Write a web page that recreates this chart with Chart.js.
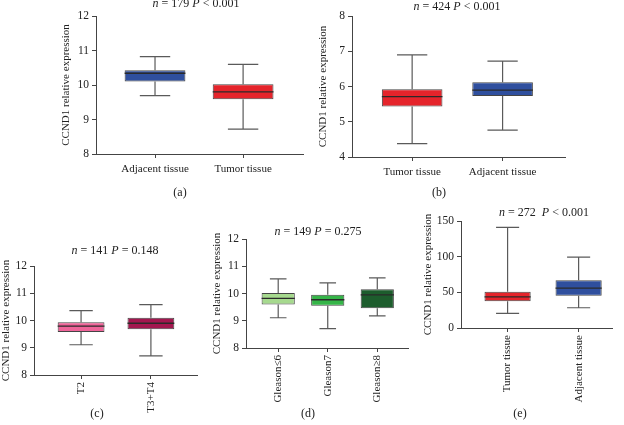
<!DOCTYPE html>
<html><head><meta charset="utf-8">
<script src="https://cdn.jsdelivr.net/npm/chart.js@4"></script>
<style>
body{margin:0;background:#fff;width:624px;height:425px;overflow:hidden;position:relative;font-family:'Liberation Serif',serif;}
canvas{position:absolute;left:0;top:0;}
.t{position:absolute;font-size:12px;white-space:nowrap;transform:translateX(-50%);line-height:12px;color:#222;}
</style></head><body>
<canvas id="ca" width="624" height="425"></canvas>
<canvas id="cb" width="624" height="425"></canvas>
<canvas id="cc" width="624" height="425"></canvas>
<canvas id="cd" width="624" height="425"></canvas>
<canvas id="ce" width="624" height="425"></canvas>
<div class="t" style="left:196px;top:-3px"><i>n</i> = 179 <i>P</i> &lt; 0.001</div>
<div class="t" style="left:457px;top:0px"><i>n</i> = 424 <i>P</i> &lt; 0.001</div>
<div class="t" style="left:115px;top:244px"><i>n</i> = 141 <i>P</i> = 0.148</div>
<div class="t" style="left:318px;top:225px"><i>n</i> = 149 <i>P</i> = 0.275</div>
<div class="t" style="left:544px;top:206px"><i>n</i> = 272&nbsp;&nbsp;<i>P</i> &lt; 0.001</div>
<div class="t" style="left:180px;top:186px">(a)</div>
<div class="t" style="left:439px;top:186px">(b)</div>
<div class="t" style="left:97px;top:407px">(c)</div>
<div class="t" style="left:308px;top:407px">(d)</div>
<div class="t" style="left:520px;top:407px">(e)</div>
<script>
// ---- data ----
const catsA = ['Adjacent tissue', 'Tumor tissue'];
const minA = [9.69, 8.72], q1A = [10.10, 9.59], medA = [10.34, 9.80], q3A = [10.43, 10.02], maxA = [10.82, 10.60];
const yA = [8, 12, 1];

const catsB = ['Tumor tissue', 'Adjacent tissue'];
const minB = [4.38, 4.76], q1B = [5.43, 5.73], medB = [5.71, 5.90], q3B = [5.92, 6.12], maxB = [6.90, 6.72];
const yB = [4, 8, 1];

const catsC = ['T2', 'T3+T4'];
const minC = [9.11, 8.70], q1C = [9.58, 9.68], medC = [9.79, 9.90], q3C = [9.94, 10.10], maxC = [10.36, 10.58];
const yC = [8, 12, 1];

const catsD = ['Gleason≤6', 'Gleason7', 'Gleason≥8'];
const minD = [9.11, 8.71, 9.18], q1D = [9.60, 9.55, 9.46], medD = [9.82, 9.77, 9.95], q3D = [10.02, 9.95, 10.16], maxD = [10.54, 10.39, 10.57];
const yD = [8, 12, 1];

const catsE = ['Tumor tissue', 'Adjacent tissue'];
const minE = [20.5, 28.4], q1E = [37.5, 45.2], medE = [43.5, 55.9], q3E = [50.9, 67.1], maxE = [141, 99.3];
const yE = [0, 150, 50];

const yTitle = 'CCND1 relative expression';

// ---- box plot drawing plugin ----
const boxPlugin = {
  id: 'boxw',
  beforeDatasetsDraw(chart, args, o) {
    const ctx = chart.ctx, ys = chart.scales.y;
    const meta = chart.getDatasetMeta(0);
    ctx.save();
    ctx.strokeStyle = '#5a5a5a';
    ctx.lineWidth = 1.2;
    meta.data.forEach((el, i) => {
      const x = el.x, hw = el.width / 2 * 0.5;
      const yMax = ys.getPixelForValue(o.max[i]), yMin = ys.getPixelForValue(o.min[i]);
      const yQ3 = ys.getPixelForValue(o.q3[i]), yQ1 = ys.getPixelForValue(o.q1[i]);
      ctx.beginPath();
      ctx.moveTo(x, yQ3); ctx.lineTo(x, yMax);
      ctx.moveTo(x - hw, yMax); ctx.lineTo(x + hw, yMax);
      ctx.moveTo(x, yQ1); ctx.lineTo(x, yMin);
      ctx.moveTo(x - hw, yMin); ctx.lineTo(x + hw, yMin);
      ctx.stroke();
    });
    ctx.restore();
  },
  afterDatasetsDraw(chart, args, o) {
    const ctx = chart.ctx, ys = chart.scales.y;
    const meta = chart.getDatasetMeta(0);
    ctx.save();
    ctx.strokeStyle = '#2a2a2a';
    ctx.lineWidth = 1.3;
    meta.data.forEach((el, i) => {
      const y = ys.getPixelForValue(o.med[i]);
      ctx.beginPath();
      ctx.moveTo(el.x - el.width / 2, y); ctx.lineTo(el.x + el.width / 2, y);
      ctx.stroke();
    });
    ctx.restore();
  }
};

const FONT = "'Liberation Serif', 'Times New Roman', serif";

function makeBox(id, cats, mn, q1, md, q3, mx, yr, colors, L) {
  const hx = 425 - L.bot;
  new Chart(document.getElementById(id), {
    type: 'bar',
    data: {
      datasets: [{
        data: cats.map((c, i) => ({ x: i, y: [q1[i], q3[i]] })),
        backgroundColor: colors,
        borderColor: '#454545',
        borderWidth: 1,
        borderSkipped: false,
        categoryPercentage: 1,
        barPercentage: L.bp
      }]
    },
    options: {
      responsive: false,
      animation: false,
      events: [],
      layout: { padding: { left: L.axL - L.wy, right: 624 - L.axR, top: L.top, bottom: 0 } },
      plugins: {
        legend: { display: false },
        tooltip: { enabled: false },
        title: { display: false },
        boxw: { min: mn, q1: q1, med: md, q3: q3, max: mx }
      },
      scales: {
        x: {
          type: 'linear', min: L.xmin, max: L.xmax, offset: false,
          afterBuildTicks(s) { s.ticks = cats.map((c, i) => ({ value: i })); },
          afterFit(s) { s.height = hx; },
          ticks: {
            autoSkip: false, callback: (v) => cats[v],
            font: { family: FONT, size: 11 }, color: '#222',
            padding: L.xpad, maxRotation: L.rot, minRotation: L.rot
          },
          grid: { display: true, drawOnChartArea: false, drawTicks: true, tickLength: 4, color: '#444', offset: false },
          border: { display: true, color: '#444', width: 1 }
        },
        y: {
          min: yr[0], max: yr[1],
          afterFit(s) { s.width = L.wy; },
          ticks: { stepSize: yr[2], font: { family: FONT, size: 11.5 }, color: '#222', padding: 3 },
          grid: { display: true, drawOnChartArea: false, drawTicks: true, tickLength: 4, color: '#444' },
          border: { display: true, color: '#444', width: 1 },
          title: { display: true, text: yTitle, font: { family: FONT, size: 11 }, color: '#222', padding: 0 }
        }
      }
    },
    plugins: [boxPlugin]
  });
}

makeBox('ca', catsA, minA, q1A, medA, q3A, maxA, yA, ['#2f4f9e', '#e5242b'],
  { axL: 96, axR: 303, top: 16, bot: 154, wy: 36, xmin: -0.67, xmax: 1.68, bp: 0.69, xpad: 5, rot: 0 });
makeBox('cb', catsB, minB, q1B, medB, q3B, maxB, yB, ['#e5242b', '#2f4f9e'],
  { axL: 352, axR: 565, top: 16, bot: 157, wy: 35, xmin: -0.665, xmax: 1.69, bp: 0.67, xpad: 5, rot: 0 });
makeBox('cc', catsC, minC, q1C, medC, q3C, maxC, yC, ['#ef6499', '#a3174f'],
  { axL: 34, axR: 197, top: 266, bot: 375, wy: 34, xmin: -0.674, xmax: 1.66, bp: 0.67, xpad: 3, rot: 90 });
makeBox('cd', catsD, minD, q1D, medD, q3D, maxD, yD, ['#a6d98e', '#35b548', '#1d5d2d'],
  { axL: 246, axR: 408, top: 239, bot: 348, wy: 35, xmin: -0.65, xmax: 2.62, bp: 0.67, xpad: 3, rot: 90 });
makeBox('ce', catsE, minE, q1E, medE, q3E, maxE, yE, ['#e5242b', '#2f4f9e'],
  { axL: 461, axR: 612, top: 221, bot: 328, wy: 39, xmin: -0.656, xmax: 1.47, bp: 0.65, xpad: 3, rot: 90 });
</script>
</body></html>
